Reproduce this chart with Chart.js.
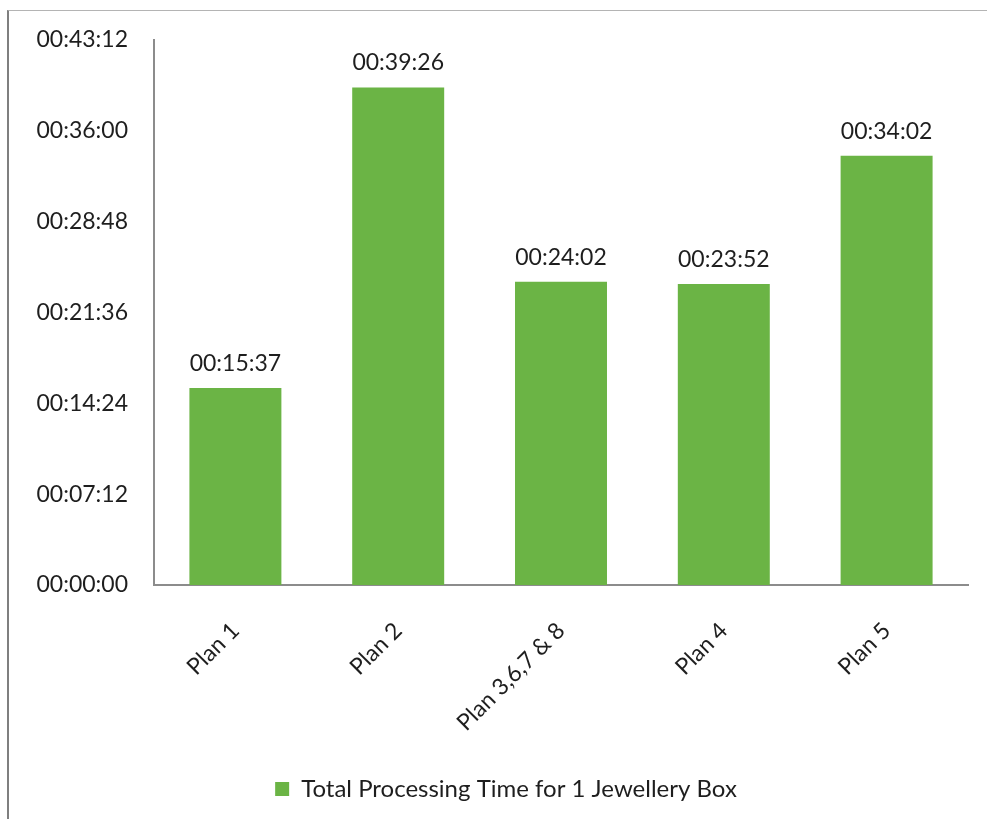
<!DOCTYPE html>
<html>
<head>
<meta charset="utf-8">
<script src="https://cdn.jsdelivr.net/npm/chart.js@4/dist/chart.umd.min.js"></script>
<style>
  html, body { margin: 0; padding: 0; background: #fff; }
  #wrap { position: relative; width: 987px; height: 819px; }
  #frame { position: absolute; left: 7px; top: 10px; right: 0; bottom: 0;
           border-left: 2px solid #7f7f7f; border-top: 1px solid #b4b4b4; pointer-events: none; }
  canvas { position: absolute; left: 0; top: 0; }
</style>
</head>
<body>
<div id="wrap">
  <canvas id="c" width="987" height="819"></canvas>
  <div id="frame"></div>
</div>
<script>
// Categories and processing times (hh:mm:ss)
const categories = ['Plan 1', 'Plan 2', 'Plan 3,6,7 & 8', 'Plan 4', 'Plan 5'];
const processingTimes = ['00:15:37', '00:39:26', '00:24:02', '00:23:52', '00:34:02'];
const seriesName = 'Total Processing Time for 1 Jewellery Box';
const yTickStep = '00:07:12';
const yTickMax = '00:43:12';

function toSeconds(t) {
  const [h, m, s] = t.split(':').map(Number);
  return h * 3600 + m * 60 + s;
}
function toClock(sec) {
  sec = Math.round(sec);
  const h = Math.floor(sec / 3600), m = Math.floor((sec % 3600) / 60), s = sec % 60;
  return [h, m, s].map(v => String(v).padStart(2, '0')).join(':');
}

const values = processingTimes.map(toSeconds);
const FONT = 'Lato, "Open Sans", sans-serif';
const TEXT = '#1e1e1e';
const GREEN = '#6bb445';

// Writes each bar's time above it
const valueLabels = {
  id: 'valueLabels',
  afterDatasetsDraw(chart) {
    const ctx = chart.ctx;
    const meta = chart.getDatasetMeta(0);
    ctx.save();
    ctx.font = '23px ' + FONT;
    ctx.fillStyle = TEXT;
    ctx.textAlign = 'center';
    ctx.textBaseline = 'bottom';
    meta.data.forEach((bar, i) => {
      ctx.fillText(processingTimes[i], bar.x, bar.y - 13);
    });
    ctx.restore();
  }
};

// Centres the legend under the whole canvas rather than the padded area
const legendOffset = {
  id: 'legendOffset',
  afterLayout(chart) {
    const lg = chart.legend;
    if (lg) { lg.left += 22; lg.right += 22; }
  }
};

new Chart(document.getElementById('c'), {
  type: 'bar',
  data: {
    labels: categories,
    datasets: [{
      label: seriesName,
      data: values,
      backgroundColor: GREEN,
      borderWidth: 0,
      categoryPercentage: 1,
      barPercentage: 0.565
    }]
  },
  options: {
    responsive: false,
    animation: false,
    devicePixelRatio: 1,
    layout: { padding: { top: 40, right: 19, left: 0, bottom: 8 } },
    plugins: {
      legend: {
        position: 'bottom',
        labels: {
          font: { family: FONT, size: 24 },
          color: TEXT,
          boxWidth: 14,
          boxHeight: 14,
          padding: 10
        }
      },
      tooltip: { enabled: false }
    },
    scales: {
      x: {
        grid: { display: false, drawTicks: false },
        border: { display: true, color: '#8c8c8c', width: 2 },
        ticks: {
          font: { family: FONT, size: 23 },
          color: TEXT,
          maxRotation: 45,
          minRotation: 45,
          padding: 32
        },
        afterFit(scale) { scale.height = 182; }
      },
      y: {
        min: 0,
        max: toSeconds(yTickMax),
        grid: { display: false, drawTicks: false },
        border: { display: true, color: '#8c8c8c', width: 2 },
        ticks: {
          stepSize: toSeconds(yTickStep),
          font: { family: FONT, size: 23 },
          color: TEXT,
          padding: 26,
          callback: v => toClock(v)
        },
        afterFit(scale) { scale.width = 154; }
      }
    }
  },
  plugins: [valueLabels, legendOffset]
});
</script>
</body>
</html>
